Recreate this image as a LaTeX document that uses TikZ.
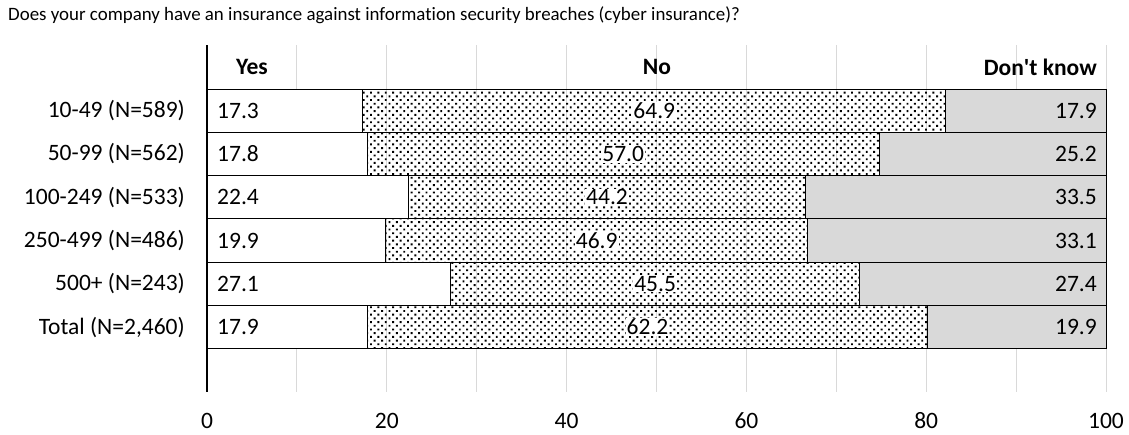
\documentclass[tikz,border=0pt]{standalone}
\usepackage{fontspec}
\setmainfont[Ligatures={NoCommon}]{Carlito}
\usetikzlibrary{patterns}
\pgfdeclarepatternformonly{mydots}{\pgfpoint{-1pt}{-1pt}}{\pgfpoint{8pt}{8pt}}{\pgfpoint{7.4pt}{7.4pt}}{%
  \pgfpathrectangle{\pgfpoint{0pt}{0pt}}{\pgfpoint{1.9pt}{1.9pt}}%
  \pgfpathrectangle{\pgfpoint{3.7pt}{3.7pt}}{\pgfpoint{1.9pt}{1.9pt}}%
  \pgfusepath{fill}}
\definecolor{gridgray}{HTML}{D9D9D9}
\definecolor{dkgray}{HTML}{D9D9D9}
\tikzset{
  grid line/.style={draw=gridgray, line width=1pt},
  seg/.style={draw=black, line width=1pt},
  yesseg/.style={seg, fill=white},
  noseg/.style={seg, pattern=mydots},
  dkseg/.style={seg, fill=dkgray},
  val/.style={font=\fontsize{23.5}{26}\selectfont, inner sep=1pt},
  cat/.style={font=\fontsize{23.5}{26}\selectfont, anchor=east, inner sep=0pt},
  head/.style={font=\fontsize{23.5}{26}\selectfont\bfseries, inner sep=0pt},
  tick/.style={font=\fontsize{23.5}{26}\selectfont, inner sep=0pt},
}
\begin{document}
\begin{tikzpicture}[x=1pt, y=-1pt]
\useasboundingbox (0,0) rectangle (1129,434);
\fill[white] (0,0) rectangle (1129,434);
% title
\node[anchor=west, inner sep=0pt, font=\fontsize{18.9}{22}\selectfont] (title) at (8,15) {Does your company have an insurance against information security breaches (cyber insurance)?};
% gridlines
\foreach \v in {10,20,...,100} {
  \draw[grid line] ({207+8.99*\v},45) -- ({207+8.99*\v},392);
}
% header
\node[head] (hyes) at (252,67) {Yes};
\node[head] (hno) at (657,67) {No};
\node[head, anchor=east] (hdk) at (1097,67) {Don\textquotesingle t know};
% rows
\foreach \i/\lab/\a/\b/\c in {
  0/10-49 (N=589)/17.3/64.9/17.9,
  1/50-99 (N=562)/17.8/57.0/25.2,
  2/100-249 (N=533)/22.4/44.2/33.5,
  3/250-499 (N=486)/19.9/46.9/33.1,
  4/500+ (N=243)/27.1/45.5/27.4,
  5/Total (N=2{,}460)/17.9/62.2/19.9} {
  \pgfmathsetmacro{\ytop}{89+43.3*\i}
  \pgfmathsetmacro{\ybot}{\ytop+43.3}
  \pgfmathsetmacro{\ymid}{\ytop+21.65}
  \pgfmathsetmacro{\xa}{207+8.99*\a}
  \pgfmathsetmacro{\xb}{207+8.99*(\a+\b)}
  \draw[yesseg] (207,\ytop) rectangle (\xa,\ybot);
  \draw[noseg] (\xa,\ytop) rectangle (\xb,\ybot);
  \draw[dkseg] (\xb,\ytop) rectangle (1106,\ybot);
  \node[val, anchor=west] (yes\i) at (216,\ymid) {\a};
  \node[val, fill=white] (no\i) at ({(\xa+\xb)/2},\ymid) {\b};
  \node[val, anchor=east] (dk\i) at (1098,\ymid) {\c};
  \node[cat] (cat\i) at (185,\ymid) {\lab};
}
% axis
\draw[black, line width=1.6pt] (207,45) -- (207,392);
% tick labels
\foreach \v in {0,20,...,100} {
  \node[tick] (t\v) at ({207+8.99*\v},421) {\v};
}
\end{tikzpicture}
\end{document}
